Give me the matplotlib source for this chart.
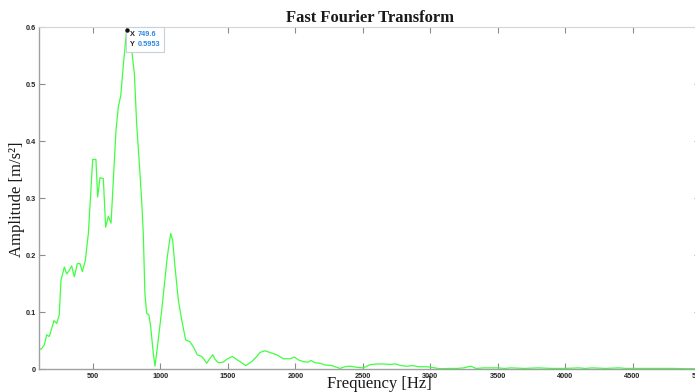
import matplotlib
matplotlib.use("Agg")
import matplotlib.pyplot as plt
from matplotlib.offsetbox import TextArea, HPacker, VPacker, AnnotationBbox

# ---- data ----
freq_hz = [100, 117, 139, 157, 176, 194, 211, 231, 250, 263, 288, 305, 322, 342,
           362, 384, 404, 421, 443, 466, 480, 498, 522, 535, 552, 577, 594, 614,
           634, 651, 671, 688, 706, 725, 749.6, 768, 787, 807, 824, 844, 861, 873,
           885, 898, 915, 928, 947, 960, 984, 1010, 1034, 1051, 1076, 1091, 1108,
           1133, 1158, 1187, 1219, 1244, 1273, 1306, 1323, 1343, 1368, 1388, 1405,
           1429, 1466, 1491, 1533, 1570, 1590, 1632, 1677, 1714, 1738, 1775, 1812,
           1862, 1911, 1961, 1993, 2022, 2059, 2096, 2116, 2146, 2183, 2220, 2270,
           2331, 2368, 2405, 2455, 2504, 2554, 2603, 2652, 2702, 2739, 2776, 2826,
           2870, 2912, 2974, 3035, 3070, 3150, 3200, 3250, 3300, 3340, 3400, 3500,
           3550, 3600, 3700, 3800, 3900, 4000, 4100, 4150, 4200, 4300, 4400, 4450,
           4500, 4600, 4700, 4800, 4900, 5000]
amplitude = [0.0345, 0.035, 0.042, 0.060, 0.057, 0.071, 0.085, 0.080, 0.095, 0.156,
             0.179, 0.167, 0.172, 0.181, 0.162, 0.185, 0.185, 0.171, 0.190, 0.238,
             0.296, 0.368, 0.368, 0.302, 0.336, 0.334, 0.249, 0.268, 0.256, 0.33,
             0.42, 0.46, 0.48, 0.533, 0.5953, 0.585, 0.56, 0.519, 0.43, 0.36, 0.296,
             0.238, 0.133, 0.098, 0.095, 0.074, 0.028, 0.005, 0.051, 0.104, 0.159,
             0.197, 0.238, 0.226, 0.18, 0.121, 0.086, 0.051, 0.048, 0.039, 0.025,
             0.022, 0.017, 0.010, 0.019, 0.025, 0.017, 0.011, 0.012, 0.017, 0.022,
             0.016, 0.013, 0.006, 0.013, 0.022, 0.029, 0.032, 0.029, 0.025, 0.018,
             0.018, 0.021, 0.016, 0.013, 0.012, 0.015, 0.011, 0.010, 0.007, 0.006,
             0.001, 0.004, 0.005, 0.003, 0.002, 0.0076, 0.0088, 0.0088, 0.008, 0.009,
             0.0065, 0.0047, 0.006, 0.004, 0.004, 0.002, 0.0005, 0.001, 0.001, 0.002,
             0.005, 0.001, 0.002, 0.002, 0.001, 0.002, 0.001, 0.002, 0.001, 0.001,
             0.002, 0.001, 0.002, 0.001, 0.002, 0.001, 0.001, 0.001, 0.001, 0.001,
             0.0005, 0.0005]
x_ticks = [500, 1000, 1500, 2000, 2500, 3000, 3500, 4000, 4500, 5000]
y_ticks = [0, 0.1, 0.2, 0.3, 0.4, 0.5, 0.6]
tip_x, tip_y = 749.6, 0.5953

W, H = 695, 392
fig = plt.figure(figsize=(W / 100, H / 100), dpi=100)
ax = fig.add_axes([39 / W, (H - 369) / H, 661 / W, 341.7 / H])

ax.plot(freq_hz, amplitude, color="#40ff40", lw=0.9)
ax.set_xlim(100, 5000)
ax.set_ylim(0, 0.6)
ax.set_xticks(x_ticks)
ax.set_yticks(y_ticks)
ax.set_xticklabels([str(v) for v in x_ticks])
ax.set_yticklabels(["0", "0.1", "0.2", "0.3", "0.4", "0.5", "0.6"])

for lab in ax.get_xticklabels() + ax.get_yticklabels():
    lab.set_fontfamily(["Liberation Sans", "DejaVu Sans"])
    lab.set_fontweight("bold")
    lab.set_fontsize(5.3)
    lab.set_color("#262626")

ax.tick_params(direction="in", length=4.5, width=0.8, colors="#8c8c8c",
               labelcolor="#262626", top=True, right=True, pad=3)
ax.tick_params(axis="y", pad=2)
for side in ["left", "bottom"]:
    ax.spines[side].set_color("#a0a0a0")
    ax.spines[side].set_linewidth(1.0)
for side in ["top", "right"]:
    ax.spines[side].set_color("#d4d4d4")
    ax.spines[side].set_linewidth(0.8)

ax.set_title("Fast Fourier Transform", family=["Liberation Serif"], weight="bold",
             fontsize=12, pad=4, color="#1a1a1a")
ax.set_xlabel("Frequency [Hz]", family=["Liberation Serif"], fontsize=12,
              color="#1a1a1a")
ax.xaxis.set_label_coords(0.515, -0.021)
ax.set_ylabel("Amplitude [m/s²]", family=["Liberation Serif", "DejaVu Serif"],
              fontsize=12, color="#1a1a1a")
ax.yaxis.set_label_coords(-0.021, 0.497)

# data tip
ax.plot([tip_x], [tip_y], "o", color="#111111", ms=2.2, clip_on=False, zorder=5)
fp = dict(family="Liberation Sans", weight="bold", size=5.3)
row1 = HPacker(children=[TextArea("X", textprops=dict(color="#222222", **fp)),
                         TextArea(f"{tip_x:g}", textprops=dict(color="#2a86e8", **fp))],
               align="baseline", pad=0, sep=2)
row2 = HPacker(children=[TextArea("Y", textprops=dict(color="#222222", **fp)),
                         TextArea(f"{tip_y:.4f}", textprops=dict(color="#2a86e8", **fp))],
               align="baseline", pad=0, sep=2)
box = VPacker(children=[row1, row2], align="left", pad=0, sep=1.8)
ab = AnnotationBbox(box, (tip_x, tip_y), xybox=(2.2, -1.0), xycoords="data",
                    boxcoords="offset points", box_alignment=(0, 1), frameon=True,
                    pad=0.4, bboxprops=dict(edgecolor="#c8d0dc", facecolor="white",
                                            lw=0.8, boxstyle="square"))
ax.add_artist(ab)

fig.savefig("out.png", dpi=100)
